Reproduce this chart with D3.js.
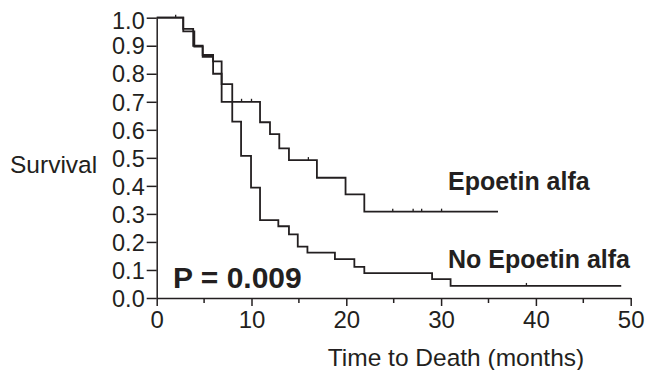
<!DOCTYPE html>
<html>
<head>
<meta charset="utf-8">
<script src="https://cdn.jsdelivr.net/npm/d3@7"></script>
<style>
  body { margin: 0; background: #fff; }
  svg { display: block; font-family: "Liberation Sans", Arial, Helvetica, sans-serif; }
</style>
</head>
<body>
<div id="chart"></div>
<script>
// Kaplan-Meier steps (months, survival fraction)
const epoTimes = [0, 2.8, 3.85, 4.85, 5.95, 6.85, 10.9, 11.95, 12.93, 13.95, 16.9, 19.92, 21.9];
const epoSurv  = [1.0, 0.96, 0.90, 0.867, 0.80, 0.70, 0.627, 0.585, 0.534, 0.492, 0.429, 0.37, 0.308];
const epoEnd = 36;
const epoCensored = [2, 8.95, 10, 16, 24.9, 27.05, 27.95, 30.05];

const noEpoTimes = [0, 2.8, 3.97, 4.85, 5.95, 6.85, 7.97, 8.9, 9.95, 10.9, 12.83, 13.95, 14.88, 15.9, 18.8, 20.85, 21.9, 29.05, 31.0];
const noEpoSurv  = [1.0, 0.951, 0.897, 0.86, 0.844, 0.763, 0.629, 0.507, 0.394, 0.278, 0.256, 0.227, 0.183, 0.162, 0.139, 0.111, 0.089, 0.067, 0.043];
const noEpoEnd = 49;
const noEpoCensored = [39];

const xTicks = [0, 10, 20, 30, 40, 50];
const xMinorTicks = [5, 15, 25, 35, 45];
const yTicks = [0, 0.1, 0.2, 0.3, 0.4, 0.5, 0.6, 0.7, 0.8, 0.9, 1.0];

const WIDTH = 649, HEIGHT = 370;
const MARGIN = { top: 17.7, right: 18.3, bottom: 72, left: 156.7 };
const INK = "#231f20";

const svg = d3.select("#chart").append("svg")
  .attr("width", WIDTH)
  .attr("height", HEIGHT);

const x = d3.scaleLinear()
  .domain([0, 50])
  .range([MARGIN.left, WIDTH - MARGIN.right]);

const y = d3.scaleLinear()
  .domain([0, 1])
  .range([HEIGHT - MARGIN.bottom, MARGIN.top]);

// x axis: major ticks every 10, minor every 5
const xAxis = svg.append("g")
  .attr("transform", `translate(0,${y(0)})`)
  .call(d3.axisBottom(x)
    .tickValues(xTicks)
    .tickFormat(d3.format("d"))
    .tickSize(8)
    .tickSizeOuter(0)
    .tickPadding(5));
xAxis.selectAll("text").attr("font-size", 24).attr("fill", INK);

svg.append("g")
  .attr("transform", `translate(0,${y(0)})`)
  .selectAll("line")
  .data(xMinorTicks)
  .join("line")
  .attr("x1", d => x(d)).attr("x2", d => x(d))
  .attr("y1", 0).attr("y2", 5)
  .attr("stroke", INK).attr("stroke-width", 1.5);

// y axis
const yAxis = svg.append("g")
  .attr("transform", `translate(${x(0)},0)`)
  .call(d3.axisLeft(y)
    .tickValues(yTicks)
    .tickFormat(d3.format(".1f"))
    .tickSize(10)
    .tickSizeOuter(0)
    .tickPadding(2));
yAxis.selectAll("text").attr("font-size", 23.5).attr("fill", INK)
  .attr("dy", d => d === 1 ? "0.45em" : "0.35em");

svg.selectAll(".domain, .tick line").attr("stroke", INK).attr("stroke-width", 1.5);

// survival curves
const line = d3.line()
  .x(d => x(d[0]))
  .y(d => y(d[1]))
  .curve(d3.curveStepAfter);

function stepPoints(times, surv, end) {
  const pts = times.map((t, i) => [t, surv[i]]);
  pts.push([end, surv[surv.length - 1]]);
  return pts;
}

function survAt(times, surv, t) {
  let s = surv[0];
  times.forEach((tt, i) => { if (tt <= t) s = surv[i]; });
  return s;
}

const curves = [
  { times: epoTimes, surv: epoSurv, end: epoEnd, censored: epoCensored },
  { times: noEpoTimes, surv: noEpoSurv, end: noEpoEnd, censored: noEpoCensored }
];

curves.forEach(c => {
  svg.append("path")
    .datum(stepPoints(c.times, c.surv, c.end))
    .attr("fill", "none")
    .attr("stroke", INK)
    .attr("stroke-width", 1.8)
    .attr("d", line);

  svg.append("g")
    .selectAll("line")
    .data(c.censored)
    .join("line")
    .attr("x1", d => x(d)).attr("x2", d => x(d))
    .attr("y1", d => y(survAt(c.times, c.surv, d)))
    .attr("y2", d => y(survAt(c.times, c.surv, d)) - 3)
    .attr("stroke", INK)
    .attr("stroke-width", 1.3);
});

// labels
svg.append("text")
  .attr("x", 10).attr("y", 173)
  .attr("font-size", 24.5).attr("fill", INK)
  .text("Survival");

svg.append("text")
  .attr("x", 456).attr("y", 366)
  .attr("text-anchor", "middle")
  .attr("font-size", 24.5).attr("fill", INK)
  .text("Time to Death (months)");

svg.append("text")
  .attr("x", 448).attr("y", 190)
  .attr("font-size", 25).attr("font-weight", "bold").attr("fill", INK)
  .text("Epoetin alfa");

svg.append("text")
  .attr("x", 448).attr("y", 268)
  .attr("font-size", 25).attr("font-weight", "bold").attr("fill", INK)
  .text("No Epoetin alfa");

svg.append("text")
  .attr("x", 173).attr("y", 288)
  .attr("font-size", 30).attr("font-weight", "bold").attr("fill", INK)
  .text("P = 0.009");
</script>
</body>
</html>
